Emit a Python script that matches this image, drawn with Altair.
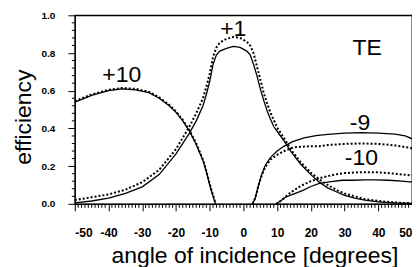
import altair as alt
import pandas as pd

# ---- data ----
p1_solid_x = [-50, -45, -40, -35, -30, -25, -20, -16, -14, -12, -11, -10, -9, -8, -7, -5, -3, -1, 1, 2, 3, 4, 5, 6, 7, 8, 9, 10, 12, 14, 17, 20, 22.5, 25, 28, 30, 33, 36, 40, 45, 50]
p1_solid_y = [0.005, 0.015, 0.03, 0.055, 0.09, 0.155, 0.265, 0.375, 0.44, 0.52, 0.58, 0.65, 0.74, 0.79, 0.81, 0.825, 0.835, 0.83, 0.81, 0.79, 0.74, 0.68, 0.61, 0.55, 0.495, 0.45, 0.41, 0.385, 0.335, 0.28, 0.21, 0.155, 0.115, 0.085, 0.06, 0.045, 0.03, 0.02, 0.01, 0.005, 0.002]

p1_dot_x = [-50, -45, -40, -35, -30, -25, -20, -16, -14, -12, -11, -10, -9, -8, -7, -5, -3, -1, 1, 2, 3, 4, 5, 6, 7, 8, 9, 10, 12, 14, 17, 20, 22.5, 25, 28, 30, 33, 36, 40, 45, 50]
p1_dot_y = [0.02, 0.035, 0.05, 0.075, 0.115, 0.18, 0.29, 0.41, 0.48, 0.56, 0.62, 0.69, 0.78, 0.83, 0.855, 0.875, 0.885, 0.88, 0.86, 0.84, 0.80, 0.73, 0.66, 0.59, 0.535, 0.485, 0.445, 0.405, 0.35, 0.29, 0.22, 0.165, 0.13, 0.10, 0.07, 0.055, 0.04, 0.025, 0.015, 0.007, 0.003]

p10_solid_x = [-50, -45, -40, -36, -32, -28, -25, -22, -20, -18, -16, -14, -12, -11, -10, -9, -8.3]
p10_solid_y = [0.54, 0.575, 0.60, 0.61, 0.605, 0.59, 0.56, 0.52, 0.485, 0.44, 0.385, 0.315, 0.23, 0.17, 0.10, 0.04, 0.0]

p10_dot_x = [-50, -45, -40, -36, -32, -28, -25, -22, -20, -18, -16, -14, -12, -11, -10, -9, -8.2]
p10_dot_y = [0.545, 0.58, 0.605, 0.614, 0.61, 0.594, 0.565, 0.525, 0.49, 0.445, 0.39, 0.32, 0.235, 0.175, 0.105, 0.045, 0.0]

m9_solid_x = [2.7, 3.5, 4.5, 5.5, 6.5, 8, 10, 12, 14.6, 18, 21.5, 25, 30, 35, 40, 45, 48, 50]
m9_solid_y = [0.0, 0.03, 0.10, 0.16, 0.205, 0.245, 0.28, 0.305, 0.33, 0.35, 0.362, 0.368, 0.375, 0.378, 0.375, 0.37, 0.36, 0.345]

m9_dot_x = [2.7, 3.5, 4.5, 5.5, 6.5, 8, 10, 12.6, 15, 19.5, 22.5, 25, 30, 35, 40, 45, 50]
m9_dot_y = [0.0, 0.03, 0.10, 0.155, 0.195, 0.235, 0.26, 0.285, 0.30, 0.305, 0.305, 0.312, 0.318, 0.32, 0.318, 0.31, 0.295]

m10_solid_x = [9.7, 11, 12.5, 14.6, 17.5, 20, 22.5, 26, 29.4, 32.3, 36, 39.3, 43, 47, 50]
m10_solid_y = [0.0, 0.015, 0.035, 0.05, 0.07, 0.092, 0.108, 0.118, 0.125, 0.125, 0.127, 0.127, 0.125, 0.12, 0.115]

m10_dot_x = [9.7, 11, 12, 14, 17, 20, 23, 27, 30, 35, 40, 45, 50]
m10_dot_y = [0.0, 0.015, 0.03, 0.06, 0.095, 0.12, 0.138, 0.155, 0.163, 0.168, 0.167, 0.16, 0.15]

label_text = ["+10", "+1", "TE", "-9", "-10"]
label_x = [-36.1, -3.0, 36.7, 34.6, 35.0]
label_y = [0.685, 0.925, 0.825, 0.43, 0.243]

x_major = [-50, -40, -30, -20, -10, 0, 10, 20, 30, 40, 50]
y_major = [0.0, 0.2, 0.4, 0.6, 0.8, 1.0]
x_minor = [v for v in range(-50, 51) if v % 10 != 0]
y_minor = [0.04, 0.08, 0.12, 0.16, 0.24, 0.28, 0.32, 0.36, 0.44, 0.48, 0.52, 0.56,
           0.64, 0.68, 0.72, 0.76, 0.84, 0.88, 0.92, 0.96]

# ---- build tables ----
rows = []
def add(name, style, xs, ys):
    for i, (a, e) in enumerate(zip(xs, ys)):
        rows.append({"angle": a, "eff": e, "series": name, "style": style, "i": i})

add("+1", "solid", p1_solid_x, p1_solid_y)
add("+1", "dot", p1_dot_x, p1_dot_y)
add("+10", "solid", p10_solid_x, p10_solid_y)
add("+10", "dot", p10_dot_x, p10_dot_y)
add("-9", "solid", m9_solid_x, m9_solid_y)
add("-9", "dot", m9_dot_x, m9_dot_y)
add("-10", "solid", m10_solid_x, m10_solid_y)
add("-10", "dot", m10_dot_x, m10_dot_y)
df = pd.DataFrame(rows)

labels = pd.DataFrame({"angle": label_x, "eff": label_y, "text": label_text})
xminor_df = pd.DataFrame({"angle": x_minor})
yminor_df = pd.DataFrame({"eff": y_minor})

FONT = "Liberation Sans"

xscale = alt.Scale(domain=[-50, 50], nice=False, zero=False)
yscale = alt.Scale(domain=[0, 1], nice=False)

xaxis = alt.Axis(values=x_major, labelExpr="'' + datum.value", tickSize=7, tickColor="black",
                 domainColor="black", labelFont=FONT, labelFontSize=12, labelFontWeight="bold",
                 labelColor="black", labelPadding=17, grid=False, labelOverlap=False,
                 title="angle of incidence [degrees]", titleFont=FONT, titleFontSize=23,
                 titleFontWeight="normal", titleColor="black", titleX=180, titleY=59,
                 titleBaseline="alphabetic", titleAlign="center")
yaxis = alt.Axis(values=y_major, labelExpr="format(datum.value, '.1f')", tickSize=7, tickColor="black",
                 domainColor="black", labelFont=FONT, labelFontSize=10, labelFontWeight="bold",
                 labelColor="black", labelPadding=13, grid=False, labelOverlap=False,
                 title="efficiency", titleFont=FONT, titleFontSize=23, titleFontWeight="normal",
                 titleColor="black", titleX=-51, titleY=101.5, titleAngle=270,
                 titleBaseline="middle", titleAlign="center")

solid = alt.Chart(df).transform_filter(alt.datum.style == "solid").mark_line(
    color="black", strokeWidth=1.3).encode(
    x=alt.X("angle:Q", scale=xscale, axis=xaxis),
    y=alt.Y("eff:Q", scale=yscale, axis=yaxis),
    detail="series:N",
    order="i:Q",
)
dotted = alt.Chart(df).transform_filter(alt.datum.style == "dot").mark_line(
    color="black", strokeWidth=2, strokeDash=[2, 2]).encode(
    x=alt.X("angle:Q", scale=xscale, axis=xaxis),
    y=alt.Y("eff:Q", scale=yscale, axis=yaxis),
    detail="series:N",
    order="i:Q",
)
text = alt.Chart(labels).mark_text(font=FONT, fontSize=23, color="black",
                                   align="center", baseline="middle").encode(
    x=alt.X("angle:Q", scale=xscale, axis=xaxis),
    y=alt.Y("eff:Q", scale=yscale, axis=yaxis),
    text="text:N",
)
xminor = alt.Chart(xminor_df).mark_rule(color="black", strokeWidth=1).encode(
    x=alt.X("angle:Q", scale=xscale, axis=xaxis),
    y=alt.value(189), y2=alt.value(193),
)
yminor = alt.Chart(yminor_df).mark_rule(color="black", strokeWidth=1).encode(
    y=alt.Y("eff:Q", scale=yscale, axis=yaxis),
    x=alt.value(-3), x2=alt.value(0),
)

chart = alt.layer(solid, dotted, text, xminor, yminor).properties(
    width=338, height=189,
    autosize=alt.AutoSizeParams(type="none"),
    padding={"left": 67, "top": 7, "right": 0, "bottom": 63},
    background="white",
).configure_view(stroke="black", strokeWidth=1.3).configure_axis(labelOverlap=False)

chart.save("out.html", embed_options={"renderer": "svg", "actions": False})
